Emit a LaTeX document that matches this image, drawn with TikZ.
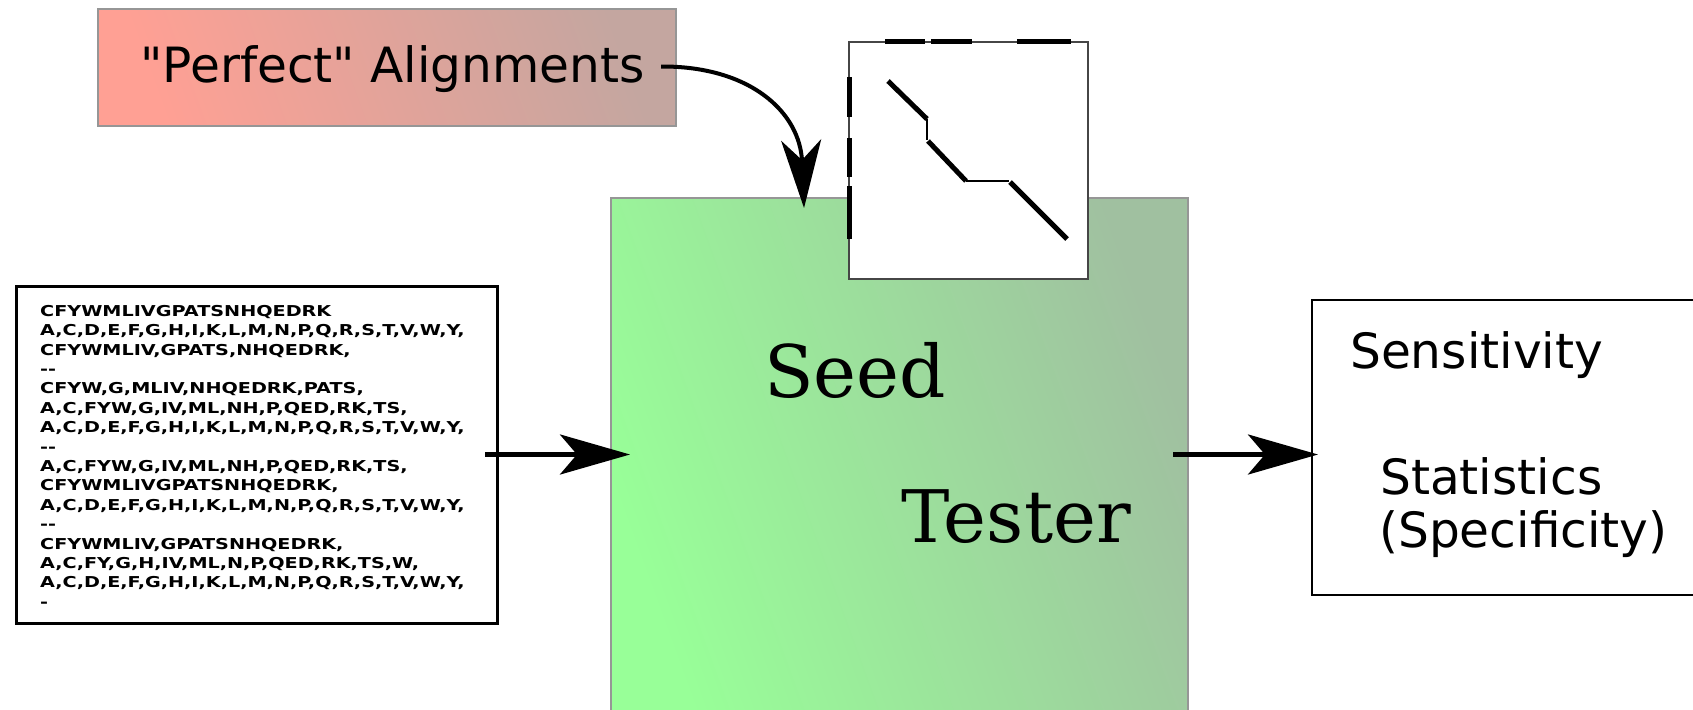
\documentclass[tikz,border=0pt]{standalone}
\usepackage{fontspec}
\newfontfamily\labelsans{DejaVu Sans}
\newfontfamily\labelserif{DejaVu Serif}
\newfontfamily\listsans[FakeStretch=1.28]{DejaVu Sans Bold}
\usetikzlibrary{arrows.meta,calc}

\definecolor{pinkL}{RGB}{255,160,148}
\definecolor{pinkR}{RGB}{196,166,160}
\definecolor{greenL}{RGB}{152,255,152}
\definecolor{greenR}{RGB}{160,192,160}
\definecolor{edgegray}{RGB}{150,150,150}
\definecolor{plotedge}{RGB}{70,70,70}

\tikzset{
  block/.style={rectangle, inner sep=0pt, outer sep=0pt},
  softbox/.style={block, draw=edgegray, line width=1.3pt},
  framebox/.style={block, draw=black, fill=white},
  flow/.style={line width=5pt, -{Stealth[length=70pt,width=40pt,inset=17pt]}},
  bentflow/.style={line width=4pt, -{Stealth[length=68pt,width=40pt,inset=20pt]}},
  thickseg/.style={line width=5pt},
  thinseg/.style={line width=1.5pt},
  bigsans/.style={inner sep=0pt, font=\labelsans\fontsize{48.6}{53}\selectfont},
  bigserif/.style={inner sep=0pt, font=\labelserif\fontsize{72.5}{80}\selectfont},
}

\begin{document}
\begin{tikzpicture}[x=1pt,y=-1pt]
\useasboundingbox (0,0) rectangle (1693,709);
\clip (0,0) rectangle (1693,709);

% seed tester block (runs off the bottom edge)
\node[softbox, left color=greenL, right color=greenR, shading angle=110,
      minimum width=577pt, minimum height=522pt] (tester) at (899.5,459) {};
\node[bigserif, anchor=base west] (seedword) at (764,397) {Seed};
\node[bigserif, anchor=base west] (testerword) at (901,542) {Tester};

% alignment plot with dashed axes
\node[block, draw=plotedge, fill=white, line width=1.5pt,
      minimum width=239pt, minimum height=237pt] (plot) at (968.5,160.5) {};
\draw[thickseg] (885,42) -- (925,42) (931,42) -- (972,42) (1017,42) -- (1071,42);
\draw[thickseg] (849,77) -- (849,117) (849,138) -- (849,177) (849,186) -- (849,239);
\draw[thickseg] (888,81) -- (927,119);
\draw[thinseg] (927,119) -- (927,140);
\draw[thickseg] (928,141) -- (966,181);
\draw[thinseg] (966,181) -- (1009,181);
\draw[thickseg] (1010,182) -- (1067,239);

% perfect alignments source
\node[softbox, left color=pinkL, right color=pinkR, shading angle=110,
      minimum width=578pt, minimum height=117pt] (perfect) at (387,67.5) {};
\node[bigsans, anchor=base west] (perfectlabel) at (140,82) {"Perfect" Alignments};

% seed list input
\node[framebox, line width=3pt, minimum width=481pt, minimum height=337pt] (seqs) at (256.5,454.5) {};
\node[anchor=north west, inner sep=0pt, align=left,
      font=\listsans\fontsize{15}{19.4}\selectfont] (seqtext) at (40,305) {%
CFYWMLIVGPATSNHQEDRK\\
A,C,D,E,F,G,H,I,K,L,M,N,P,Q,R,S,T,V,W,Y,\\
CFYWMLIV,GPATS,NHQEDRK,\\
-{}-\\
CFYW,G,MLIV,NHQEDRK,PATS,\\
A,C,FYW,G,IV,ML,NH,P,QED,RK,TS,\\
A,C,D,E,F,G,H,I,K,L,M,N,P,Q,R,S,T,V,W,Y,\\
-{}-\\
A,C,FYW,G,IV,ML,NH,P,QED,RK,TS,\\
CFYWMLIVGPATSNHQEDRK,\\
A,C,D,E,F,G,H,I,K,L,M,N,P,Q,R,S,T,V,W,Y,\\
-{}-\\
CFYWMLIV,GPATSNHQEDRK,\\
A,C,FY,G,H,IV,ML,N,P,QED,RK,TS,W,\\
A,C,D,E,F,G,H,I,K,L,M,N,P,Q,R,S,T,V,W,Y,\\
-};

% statistics output (runs off the right edge)
\node[framebox, line width=2.5pt, minimum width=408pt, minimum height=295pt] (stats) at (1516,447.5) {};
\node[bigsans, anchor=base west] (sens) at (1350,368) {Sensitivity};
\node[bigsans, anchor=base west] (statline) at (1380,494) {Statistics};
\node[bigsans, anchor=base west] (specline) at (1379,547) {(Specificity)};

% connectors
\draw[flow] ($(seqs.east)+(-12,0)$) -- ($(seqs.east -| tester.west)+(19,0)$);
\draw[flow] ($(seqs.east -| tester.east)+(-15,0)$) -- ($(seqs.east -| stats.west)+(6,0)$);
\draw[bentflow] ($(perfect.east)+(-15,-1)$) .. controls (750,66) and (800,112) .. ($(tester.north west)+(193,10)$);
\end{tikzpicture}
\end{document}
